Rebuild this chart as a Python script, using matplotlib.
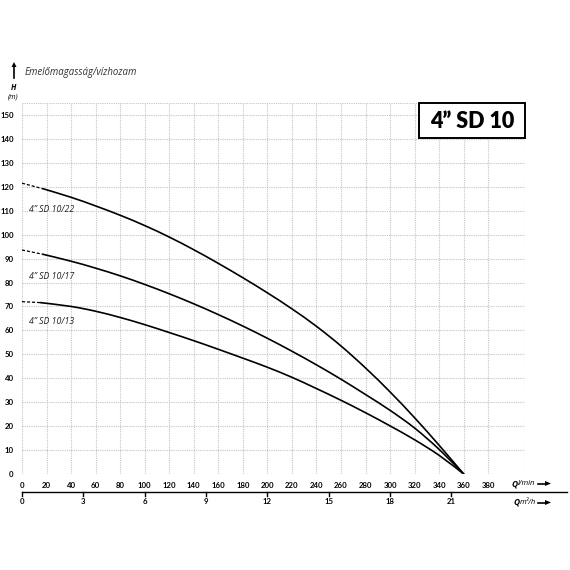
import matplotlib
matplotlib.use("Agg")
import matplotlib.pyplot as plt
from matplotlib.patches import Rectangle, PathPatch
from matplotlib.path import Path
from matplotlib.transforms import blended_transform_factory

# ---- data ----
q_solid = [17, 40, 60, 80, 100, 120, 140, 160, 180, 200, 220, 240, 260, 280, 300, 320, 340, 360]
h_22 = [119.2, 115.6, 112.0, 108.1, 103.8, 99.0, 93.7, 88.0, 82.0, 75.7, 69.0, 61.7, 53.5, 44.3, 34.3, 23.5, 12.0, 0.0]
h_17 = [91.8, 88.9, 86.0, 82.8, 79.2, 75.3, 71.1, 66.6, 61.8, 56.7, 51.3, 45.6, 39.6, 33.2, 26.6, 19.2, 10.3, 0.0]
q_solid_13 = [15, 40, 60, 80, 100, 120, 140, 160, 180, 200, 220, 240, 260, 280, 300, 320, 340, 360]
h_13 = [71.6, 70.0, 68.0, 65.4, 62.4, 59.1, 55.7, 52.1, 48.4, 44.6, 40.4, 35.7, 30.8, 25.6, 20.1, 14.3, 7.8, 0.0]
q_dash = [0, 17]
h_22_dash = [121.5, 119.2]
h_17_dash = [93.6, 91.8]
q_dash_13 = [0, 15]
h_13_dash = [72.0, 71.6]

curve_labels = ['4” SD 10/22', '4” SD 10/17', '4” SD 10/13']
label_h = [110.3, 82.4, 63.6]

x_ticks = list(range(0, 381, 20))
y_ticks = list(range(0, 151, 10))
m3h_ticks = [0, 3, 6, 9, 12, 15, 18, 21]
title = '4” SD 10'

W = H = 570
def fx(px): return px / W
def fy(py): return 1 - py / H


def smooth_path(xs, ys):
    """Catmull-Rom curve through the points, drawn as cubic Bezier segments."""
    pts = list(zip(xs, ys))
    n = len(pts)
    verts = [pts[0]]
    codes = [Path.MOVETO]
    for i in range(n - 1):
        p0 = pts[i - 1] if i > 0 else pts[i]
        p1 = pts[i]
        p2 = pts[i + 1]
        p3 = pts[i + 2] if i + 2 < n else pts[i + 1]
        c1 = (p1[0] + (p2[0] - p0[0]) / 6, p1[1] + (p2[1] - p0[1]) / 6)
        c2 = (p2[0] - (p3[0] - p1[0]) / 6, p2[1] - (p3[1] - p1[1]) / 6)
        verts += [c1, c2, p2]
        codes += [Path.CURVE4] * 3
    return Path(verts, codes)


fig = plt.figure(figsize=(5.7, 5.7), dpi=100)
ax = fig.add_axes([fx(22), fy(474), fx(525) - fx(22), fy(103) - fy(474)])
ax.set_xlim(0, 410)
ax.set_ylim(0, 155)
for s in ax.spines.values():
    s.set_visible(False)

grid_kw = dict(color='#c4c4c4', lw=0.8, ls=(0, (1, 1)), zorder=0)
for x in x_ticks + [410]:
    ax.axvline(x, **grid_kw)
for y in y_ticks + [155]:
    ax.axhline(y, **grid_kw)

ax.set_xticks(x_ticks)
ax.set_yticks(y_ticks)
ax.tick_params(length=0, labelsize=5.6)
ax.tick_params(axis='x', pad=6)
ax.tick_params(axis='y', pad=6)
for lab in ax.get_xticklabels() + ax.get_yticklabels():
    lab.set_fontweight('bold')
    lab.set_family('Lato')

# curves
for qs, hs in [(q_solid, h_22), (q_solid, h_17), (q_solid_13, h_13)]:
    ax.add_patch(PathPatch(smooth_path(qs, hs), facecolor='none', edgecolor='black',
                           lw=1.2, zorder=3, capstyle='round'))
for qd, hd in [(q_dash, h_22_dash), (q_dash, h_17_dash), (q_dash_13, h_13_dash)]:
    ax.plot(qd, hd, color='black', lw=0.9, ls=(0, (2.5, 1.5)), zorder=3)

for lab, hv in zip(curve_labels, label_h):
    ax.text(6, hv, lab, fontsize=6.3, style='italic', family='Open Sans',
            color='#222222', va='center', ha='left')

# secondary axis (m3/h)
tr = blended_transform_factory(ax.transData, fig.transFigure)
q_end = (567 - 22) / (503 / 410)
ax.plot([0, q_end], [fy(492), fy(492)], color='black', lw=1.0, transform=tr, clip_on=False)
for m in m3h_ticks:
    qv = m * 1000 / 60
    ax.plot([qv, qv], [fy(492), fy(495.5)], color='black', lw=1.0, transform=tr, clip_on=False)
    ax.text(qv, fy(502), str(m), fontsize=5.6, fontweight='bold', family='Lato',
            ha='center', va='center', transform=tr)

# axis unit labels
fig.text(fx(511), fy(483.5), 'Q', fontsize=6, fontweight='bold', style='italic',
         family='Open Sans', va='center', ha='left')
fig.text(fx(518), fy(483.5), 'l/min', fontsize=5.5, style='italic', family='Open Sans',
         va='center', ha='left')
fig.text(fx(513), fy(502.5), 'Q', fontsize=6, fontweight='bold', style='italic',
         family='Open Sans', va='center', ha='left')
fig.text(fx(520), fy(502.5), 'm³/h', fontsize=5.5, style='italic', family='Open Sans',
         va='center', ha='left')
for yy in (483.5, 502.5):
    fig.add_artist(plt.Line2D([fx(538), fx(546)], [fy(yy), fy(yy)], color='black', lw=1.2))
    fig.add_artist(plt.Polygon([[fx(545), fy(yy - 2.5)], [fx(551), fy(yy)], [fx(545), fy(yy + 2.5)]],
                               closed=True, color='black', lw=0))

# header
fig.add_artist(plt.Line2D([fx(14), fx(14)], [fy(78), fy(66)], color='black', lw=1.2))
fig.add_artist(plt.Polygon([[fx(11.5), fy(67)], [fx(14), fy(62)], [fx(16.5), fy(67)]],
                           closed=True, color='black', lw=0))
fig.text(fx(25), fy(72.5), 'Emelőmagasság/vízhozam', fontsize=6.9, style='italic',
         family='Open Sans', color='#333333', va='center', ha='left')
fig.text(fx(13), fy(88), 'H', fontsize=5.5, style='italic', fontweight='bold',
         family='Open Sans', va='center', ha='center')
fig.text(fx(13), fy(96.5), '(m)', fontsize=5.3, style='italic',
         family='Open Sans', va='center', ha='center')

# title box
fig.add_artist(Rectangle((fx(419), fy(138)), fx(525) - fx(419), fy(103) - fy(138),
                         transform=fig.transFigure, facecolor='white',
                         edgecolor='black', lw=1.4, zorder=5))
fig.text(fx(472), fy(121), title, fontsize=15.5, fontweight='heavy', family='Lato',
         va='center', ha='center', zorder=6)

fig.savefig('out.png', dpi=100, facecolor='white')
